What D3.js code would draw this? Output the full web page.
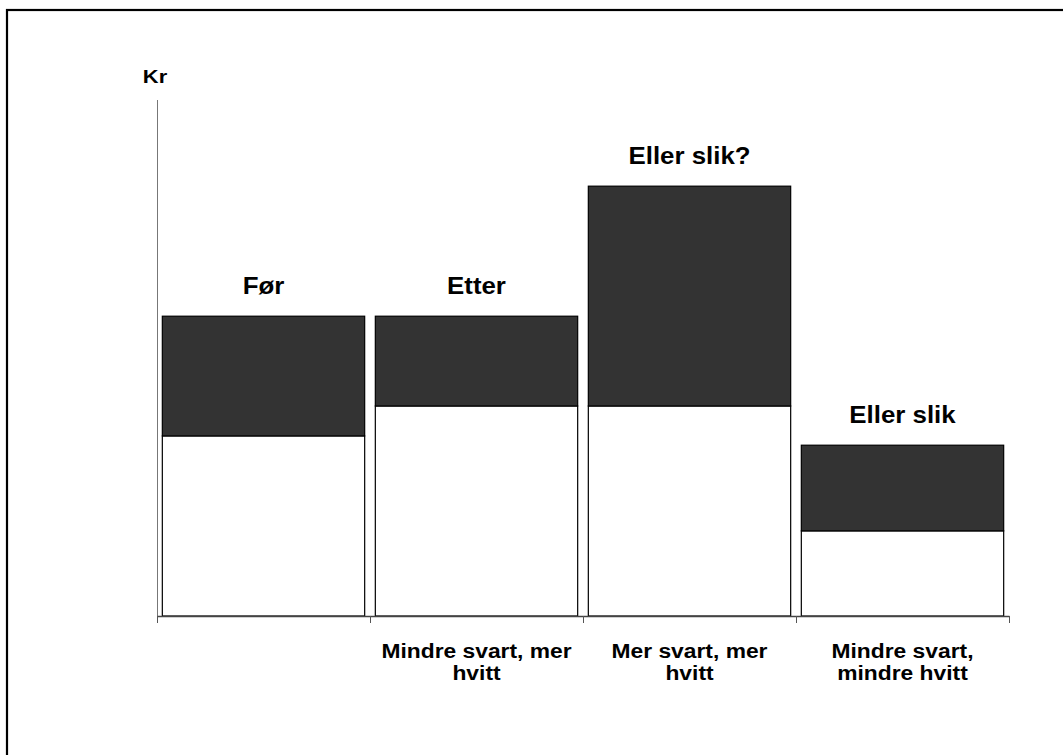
<!DOCTYPE html>
<html>
<head>
<meta charset="utf-8">
<script src="https://cdn.jsdelivr.net/npm/d3@7"></script>
<style>
  html, body { margin: 0; padding: 0; background: #fff; }
  svg { display: block; }
  text { font-family: Arial, "Liberation Sans", sans-serif; font-weight: bold; fill: #000; }
</style>
</head>
<body>
<svg id="chart" width="1063" height="755"></svg>
<script>
// ---- data ----
const categories = ["Før", "Etter", "Eller slik?", "Eller slik"];
const barTitles = ["Før", "Etter", "Eller slik?", "Eller slik"];
const tickLabels = [[], ["Mindre svart, mer", "hvitt"], ["Mer svart, mer", "hvitt"], ["Mindre svart,", "mindre hvitt"]];
const whiteValues = [3.49, 4.07, 4.07, 1.65];
const blackValues = [2.32, 1.74, 4.26, 1.66];
const yAxisTitle = "Kr";

// ---- layout ----
const svg = d3.select("#chart");
const W = 1063, H = 755;
const plot = { left: 157, right: 1009, top: 100, bottom: 616 };

svg.append("rect").attr("width", W).attr("height", H).attr("fill", "#fff");
// outer frame
svg.append("rect")
  .attr("x", 7).attr("y", 10).attr("width", W + 20).attr("height", H + 20)
  .attr("fill", "none").attr("stroke", "#000").attr("stroke-width", 2.2);

const x = d3.scaleBand().domain(categories)
  .range([plot.left, plot.right]).paddingInner(0.05).paddingOuter(0.025);
const y = d3.scaleLinear().domain([0, 10]).range([plot.bottom, plot.top]);
const xb = d3.scaleLinear().domain([0, categories.length]).range([plot.left, plot.right]);

const stackData = categories.map((c, i) => ({ cat: c, white: whiteValues[i], black: blackValues[i] }));
const series = d3.stack().keys(["white", "black"])(stackData);
const fills = { white: "#ffffff", black: "#333333" };

// bars
series.forEach(s => {
  svg.append("g").selectAll("rect").data(s).join("rect")
    .attr("x", d => x(d.data.cat))
    .attr("width", x.bandwidth())
    .attr("y", d => y(d[1]))
    .attr("height", d => y(d[0]) - y(d[1]))
    .attr("fill", fills[s.key])
    .attr("stroke", "#000")
    .attr("stroke-width", 1.2);
});

// y axis line
svg.append("line")
  .attr("x1", plot.left + 0.5).attr("x2", plot.left + 0.5)
  .attr("y1", plot.top).attr("y2", plot.bottom)
  .attr("stroke", "#777").attr("stroke-width", 1);

// x axis with ticks at category boundaries
const xAxis = svg.append("g").attr("transform", `translate(0,${plot.bottom})`)
  .call(d3.axisBottom(xb).tickValues(d3.range(categories.length + 1)).tickFormat("").tickSize(7).tickSizeOuter(0));
xAxis.select(".domain").attr("stroke", "#444").attr("stroke-width", 1.3);
xAxis.selectAll(".tick line").attr("stroke", "#555");

// bar titles
svg.append("g").selectAll("text").data(stackData).join("text")
  .attr("transform", (d, i) => `translate(${x(d.cat) + x.bandwidth() / 2},${y(d.white + d.black) - 22}) scale(1.1,1)`)
  .attr("text-anchor", "middle")
  .attr("font-size", 23.5)
  .text((d, i) => barTitles[i]);

// category tick labels
categories.forEach((c, i) => {
  const cx = x(c) + x.bandwidth() / 2;
  tickLabels[i].forEach((line, j) => {
    svg.append("text")
      .attr("transform", `translate(${cx},${plot.bottom + 42 + j * 22}) scale(1.17,1)`)
      .attr("text-anchor", "middle")
      .attr("font-size", 19.5)
      .text(line);
  });
});

// y axis title
svg.append("text")
  .attr("transform", `translate(${plot.left - 2},83) scale(1.15,1)`)
  .attr("text-anchor", "middle")
  .attr("font-size", 19)
  .text(yAxisTitle);
</script>
</body>
</html>
